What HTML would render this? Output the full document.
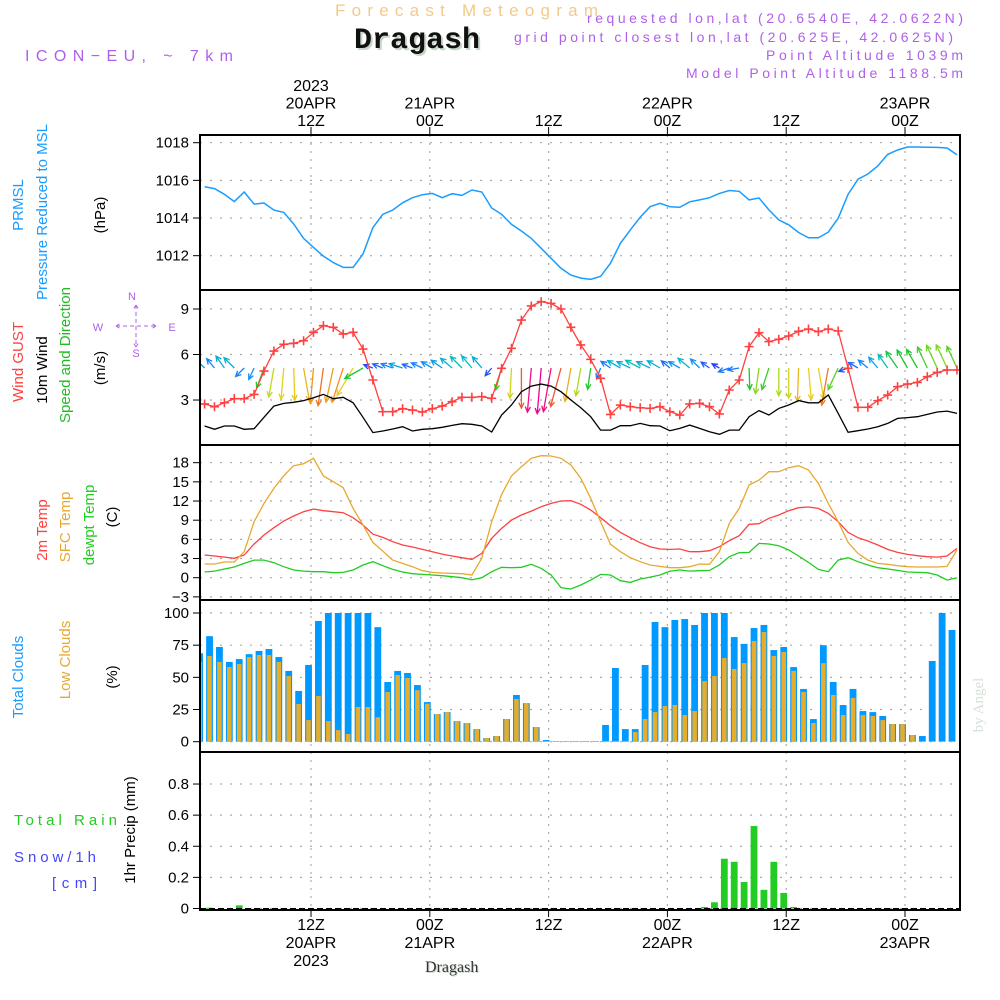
<!DOCTYPE html>
<html><head><meta charset="utf-8"><title>Meteogram Dragash</title>
<style>
html,body{margin:0;padding:0;background:#fff;}
svg{display:block;font-family:"Liberation Sans",sans-serif;}
</style></head>
<body>
<svg id="chart" width="1000" height="1000" viewBox="0 0 1000 1000" xmlns="http://www.w3.org/2000/svg">
<defs><clipPath id="plotclip"><rect x="200" y="135" width="760" height="775"/></clipPath></defs>
<g>
<text x="335" y="16" font-size="17" fill="#f4c98a" textLength="263" lengthAdjust="spacing">Forecast Meteogram</text>
<text x="356" y="50" font-size="30" font-weight="bold" font-family="Liberation Mono, monospace" fill="#c8d8c8">Dragash</text>
<text x="354" y="48" font-size="30" font-weight="bold" font-family="Liberation Mono, monospace" fill="#111">Dragash</text>
<text x="25" y="61" font-size="16" fill="#b060e8" textLength="208" lengthAdjust="spacing">ICON−EU, ~ 7km</text>
<text x="963" y="23" font-size="14" fill="#b060e8" text-anchor="end" textLength="376" lengthAdjust="spacing">requested lon,lat (20.6540E, 42.0622N)</text>
<text x="953" y="42" font-size="14" fill="#b060e8" text-anchor="end" textLength="439" lengthAdjust="spacing">grid point closest lon,lat (20.625E, 42.0625N)</text>
<text x="963" y="60" font-size="14" fill="#b060e8" text-anchor="end" textLength="197" lengthAdjust="spacing">Point Altitude 1039m</text>
<text x="963" y="78" font-size="14" fill="#b060e8" text-anchor="end" textLength="277" lengthAdjust="spacing">Model Point Altitude 1188.5m</text>
</g>
<g font-size="15">
<text transform="translate(23,205) rotate(-90)" text-anchor="middle" fill="#1a9cff">PRMSL</text>
<text transform="translate(47,212) rotate(-90)" text-anchor="middle" fill="#1a9cff">Pressure Reduced to MSL</text>
<text transform="translate(105,215) rotate(-90)" text-anchor="middle" fill="#000">(hPa)</text>
<text transform="translate(23,362) rotate(-90)" text-anchor="middle" fill="#ff4040">Wind GUST</text>
<text transform="translate(47,370) rotate(-90)" text-anchor="middle" fill="#000">10m Wind</text>
<text transform="translate(70,355) rotate(-90)" text-anchor="middle" fill="#22bb22">Speed and Direction</text>
<text transform="translate(105,368) rotate(-90)" text-anchor="middle" fill="#000">(m/s)</text>
<text transform="translate(47,530) rotate(-90)" text-anchor="middle" fill="#ff4040">2m Temp</text>
<text transform="translate(70,527) rotate(-90)" text-anchor="middle" fill="#e8a830">SFC Temp</text>
<text transform="translate(94,525) rotate(-90)" text-anchor="middle" fill="#22cc22">dewpt Temp</text>
<text transform="translate(117,517) rotate(-90)" text-anchor="middle" fill="#000">(C)</text>
<text transform="translate(23,677) rotate(-90)" text-anchor="middle" fill="#1a9cff">Total Clouds</text>
<text transform="translate(70,660) rotate(-90)" text-anchor="middle" fill="#e8a830">Low Clouds</text>
<text transform="translate(117,677) rotate(-90)" text-anchor="middle" fill="#000">(%)</text>
<text x="14" y="825" fill="#22cc22" textLength="103" lengthAdjust="spacing">Total  Rain</text>
<text x="14" y="862" fill="#4444ff" textLength="82" lengthAdjust="spacing">Snow/1h</text>
<text x="52" y="888" fill="#4444ff" textLength="45" lengthAdjust="spacing">[cm]</text>
<text transform="translate(135,830) rotate(-90)" text-anchor="middle" fill="#000">1hr Precip (mm)</text>
</g>
<g fill="#b060e8" stroke="#b060e8" font-size="11">
<text x="132" y="300" stroke="none" text-anchor="middle">N</text>
<text x="98" y="331" stroke="none" text-anchor="middle">W</text>
<text x="172" y="331" stroke="none" text-anchor="middle">E</text>
<text x="136" y="357" stroke="none" text-anchor="middle">S</text>
<path d="M136 305 v42 M116 326 h40 M116 326 l5 -3 M116 326 l5 3 M156 326 l-5 -3 M156 326 l-5 3 M136 305 l-3 5 M136 305 l3 5 M136 347 l-3 -5 M136 347 l3 -5" fill="none" stroke-width="1" stroke-dasharray="4 3"/>
</g>
<text transform="translate(983,705) rotate(-90)" text-anchor="middle" font-size="15" font-family="Liberation Serif, serif" fill="#d8e0d8">by Angel</text>
<text x="426" y="973" font-size="16" font-family="Liberation Serif, serif" fill="#ccd8cc">Dragash</text>
<text x="425" y="972" font-size="16" font-family="Liberation Serif, serif" fill="#333">Dragash</text>
<g id="grid"></g>
<g id="marks" clip-path="url(#plotclip)"></g>
<g id="frames"></g>
<g id="axes"></g>
</svg>
<script>
// ---- data (hourly) ----
const pressure = [1015.66,1015.56,1015.26,1014.87,1015.38,1014.74,1014.8,1014.42,1014.3,1013.68,1012.92,1012.44,1011.98,1011.63,1011.38,1011.38,1012.09,1013.49,1014.2,1014.42,1014.81,1015.08,1015.24,1015.31,1015.08,1015.29,1015.2,1015.49,1015.38,1014.53,1014.2,1013.66,1013.31,1012.92,1012.39,1011.86,1011.33,1010.97,1010.81,1010.74,1010.9,1011.6,1012.66,1013.37,1014.04,1014.6,1014.78,1014.6,1014.57,1014.86,1014.96,1015.08,1015.31,1015.46,1015.42,1014.96,1015.07,1014.43,1013.9,1013.64,1013.23,1012.95,1012.95,1013.25,1013.99,1015.26,1016.06,1016.34,1016.76,1017.38,1017.61,1017.77,1017.77,1017.76,1017.75,1017.72,1017.36];
const gust = [2.74,2.56,2.82,3.09,3.09,3.37,4.91,6.23,6.67,6.74,6.91,7.46,7.9,7.79,7.35,7.46,6.36,4.32,2.23,2.23,2.43,2.34,2.21,2.43,2.6,2.89,3.18,3.18,3.22,3.11,5.09,6.41,8.27,9.2,9.48,9.37,9.0,7.79,6.63,5.68,4.43,2.05,2.67,2.56,2.49,2.45,2.56,2.23,2.01,2.74,2.78,2.56,2.08,3.66,4.32,6.52,7.44,6.85,7.0,7.22,7.53,7.68,7.51,7.68,7.55,5.09,2.52,2.52,2.96,3.33,3.88,4.05,4.16,4.54,4.82,4.98,4.98];
const wind10m = [1.29,1.07,1.29,1.29,1.07,1.11,1.86,2.6,2.78,2.85,2.96,3.15,3.37,3.09,3.18,2.82,1.86,0.85,0.96,1.09,1.24,0.96,1.07,1.11,1.2,1.33,1.44,1.4,1.29,0.89,2.01,2.67,3.55,3.92,4.05,3.92,3.55,3.0,2.49,1.9,1.02,1.02,1.31,1.31,1.46,1.31,1.29,0.98,1.13,1.35,1.13,0.91,0.74,1.02,1.02,1.9,2.3,2.01,2.45,2.67,2.96,2.82,2.82,3.33,2.12,0.87,0.98,1.09,1.24,1.46,1.79,1.84,1.9,2.05,2.21,2.27,2.12];
const windDir = [315,320,325,315,225,205,200,190,185,178,170,185,188,192,198,210,240,290,292,290,288,290,295,300,305,310,315,320,320,220,195,183,180,185,185,190,195,190,190,188,200,305,300,295,298,295,300,310,300,310,315,305,300,250,260,178,188,198,180,180,182,175,170,190,205,250,300,310,320,325,325,330,330,335,335,335,335];
const temp2m = [3.55,3.39,3.23,3.03,3.55,5.27,6.68,7.82,8.87,9.65,10.33,10.75,10.49,10.33,10.17,9.39,8.24,6.83,6.31,5.63,5.11,4.8,4.43,4.07,3.7,3.39,3.13,2.87,3.81,6.16,7.72,9.02,9.81,10.43,11.11,11.63,12.0,12.05,11.48,10.59,9.39,8.14,7.09,6.26,5.48,4.85,4.49,4.43,4.49,4.07,4.07,4.23,4.85,5.79,6.57,8.35,8.45,9.29,9.81,10.49,10.95,11.06,10.85,10.07,8.76,7.09,6.26,5.74,5.11,4.43,3.96,3.65,3.44,3.29,3.23,3.39,4.59];
const sfcTemp = [2.14,2.14,2.45,2.45,4.07,8.76,11.63,13.98,15.96,17.53,17.84,18.68,15.91,15.02,14.08,10.85,8.24,5.53,4.17,2.76,2.24,1.72,1.1,0.83,0.73,0.68,0.63,0.42,3.03,8.76,13.04,15.91,17.37,18.68,19.09,19.04,18.68,17.63,15.55,12.42,8.76,5.22,4.07,3.13,2.5,1.98,1.77,1.56,1.56,1.72,2.14,2.09,4.07,8.5,10.85,14.5,15.28,16.59,16.59,17.21,17.53,16.85,14.76,11.63,8.76,5.53,3.81,2.76,2.24,2.09,1.88,1.72,1.67,1.67,1.67,1.77,4.33];
const dewpt = [0.89,1.04,1.36,1.67,2.24,2.76,2.76,2.35,1.72,1.2,1.04,0.94,0.94,0.78,0.83,1.2,1.98,2.5,1.88,1.3,0.89,0.63,0.52,0.42,0.31,0.16,0,-0.31,0,0.94,1.62,1.56,1.62,2.09,1.46,0.42,-1.56,-1.77,-1.15,-0.37,0.52,0.42,-0.47,-0.73,-0.21,0.1,0.42,1.04,1.2,1.04,1.1,1.15,1.98,3.29,3.91,3.96,5.37,5.27,5.01,4.33,3.39,2.4,1.3,0.94,2.76,3.13,2.5,1.98,1.56,1.36,1.15,0.89,0.83,0.78,0.42,-0.37,0];
const totalClouds = [68.7,82,73.6,62,64.2,68,70.5,72,65.8,55,39.4,59.6,93.8,100,100,100,100,100,89,46.4,55,53.4,44,30.8,21.5,23,16,14.5,9.8,2.8,4.4,17.6,36.3,30,11.4,1.3,0.5,0.5,0.5,0.5,0.5,13,57.3,9.8,9.8,59.6,93,89,94.6,95.3,90.7,100,100,100,81.3,76,88.3,90.7,71.2,73.6,58,41,17.6,75,46.4,28.5,41,23.8,23,20,13.7,13.7,5.2,4.4,62.7,100,86.8];
const lowClouds = [62,66.6,62,58,60.4,65.8,67.4,67.4,62,51,29.3,16.8,35.5,16,9,6,27,27,19,38.6,51.8,49.5,40,29.5,21.5,23,16,14.5,9.8,2.8,4.4,17.6,33.2,30,11.4,0.5,0.5,0.5,0.5,0.5,0.5,0.5,0.5,0.5,7.5,17.6,23,27.7,28.5,20.7,23.8,47,51,65,56.5,61.1,78.2,85.2,66.6,69.7,55,38.6,14.5,61,36.3,20.7,34,20.7,20,16.8,13.7,13.7,5.2,0.5,0.5,0.5,0.5];
const precip = [0,0.005,0,0,0.02,0,0,0,0,0,0,0,0,0,0,0,0,0,0,0,0,0,0,0,0,0,0,0,0,0,0,0,0,0,0,0,0,0,0,0,0,0,0,0,0,0,0,0,0,0,0,0.01,0.04,0.32,0.30,0.17,0.53,0.12,0.30,0.10,0.01,0,0,0,0,0,0,0,0,0,0,0,0,0,0,0,0];
const timeTicksTop = [["2023","20APR","12Z"],["21APR","00Z"],["12Z"],["22APR","00Z"],["12Z"],["23APR","00Z"]];
const timeTicksBottom = [["12Z","20APR","2023"],["00Z","21APR"],["12Z"],["00Z","22APR"],["12Z"],["00Z","23APR"]];
const tickHours = [10.75,22.75,34.75,46.75,58.75,70.75];
const pTicks = [1012,1014,1016,1018];
const wTicks = [3,6,9];
const tTicks = [-3,0,3,6,9,12,15,18];
const cTicks = [0,25,50,75,100];
const rTicks = [0,0.2,0.4,0.6,0.8];

// ---- scales ----
const X0=200, X1=960;
function xScale(h){return 311+(h-10.75)*9.9;}
function yP(v){return 142.7+(1018-v)*18.83;}
function yW(v){return 309+(9-v)*15.17;}
function yT(v){return 577.7-v*6.39;}
function yC(v){return 741.7-v*1.287;}
function yR(v){return 908.5-v*155.6;}
const panels=[[135,290],[290,445],[445,600],[600,752],[752,910]];

const NS='http://www.w3.org/2000/svg';
function mk(tag,attrs,parent){const e=document.createElementNS(NS,tag);for(const k in attrs)e.setAttribute(k,attrs[k]);parent.appendChild(e);return e;}
const grid=document.getElementById('grid'),marks=document.getElementById('marks'),frames=document.getElementById('frames'),axes=document.getElementById('axes');

function hgrid(vals,yf,name){vals.forEach(v=>{const l=mk('line',{x1:X0,x2:X1,y1:yf(v),y2:yf(v),stroke:'#aaa','stroke-width':1.2,'stroke-dasharray':'2 8'},grid);


const t=mk('line',{x1:193,x2:200,y1:yf(v),y2:yf(v),stroke:'#000','stroke-width':1},axes);


const tx=mk('text',{x:189,y:yf(v)+5,'font-size':15,'text-anchor':'end',fill:'#000'},axes);
tx.textContent=(name==='precip'&&v!==0)?v.toFixed(1):(v<0?'−'+Math.abs(v):String(v));

});}
hgrid(pTicks,yP,'pressure');hgrid(wTicks,yW,'wind');hgrid(tTicks,yT,'temp');hgrid(cTicks,yC,'cloud');hgrid(rTicks,yR,'precip');
tickHours.forEach((h,i)=>{const x=xScale(h);
panels.forEach(p=>{const l=mk('line',{x1:x,x2:x,y1:p[0],y2:p[1],stroke:'#aaa','stroke-width':1.2,'stroke-dasharray':'2 6'},grid);

});
const tt=mk('line',{x1:x,x2:x,y1:127,y2:135,stroke:'#000'},axes);


const tb=mk('line',{x1:x,x2:x,y1:910,y2:917,stroke:'#000'},axes);


const top=timeTicksTop[i];top.forEach((s,j)=>{const t=mk('text',{x:x,y:126-(top.length-1-j)*17.5,'font-size':16,'text-anchor':'middle',fill:'#000'},axes);t.textContent=s;

});
timeTicksBottom[i].forEach((s,j)=>{const t=mk('text',{x:x,y:930+j*18,'font-size':16,'text-anchor':'middle',fill:'#000'},axes);t.textContent=s;

});});

function line(arr,yf,color,name,w){const pts=arr.map((v,i)=>xScale(i).toFixed(1)+','+yf(v).toFixed(1)).join(' ');
const p=mk('polyline',{points:pts,fill:'none',stroke:color,'stroke-width':w||1.3},marks);

return p;}

line(pressure,yP,'#1a9cff','pressure-line',1.5);
totalClouds.forEach((v,i)=>{const x=xScale(i-0.5);
const r=mk('rect',{x:x-3.4,y:yC(v),width:6.8,height:yC(0)-yC(v),fill:'#0099ff'},marks);


const lv=lowClouds[i];
const r2=mk('rect',{x:x-2.3,y:yC(lv),width:4.6,height:yC(0)-yC(lv),fill:'#e6ac2c'},marks);

});
precip.forEach((v,i)=>{if(v<=0)return;const x=xScale(i-0.5);
const r=mk('rect',{x:x-3.4,y:yR(v),width:6.8,height:Math.max(1,yR(0)-yR(v)),fill:'#22cc22'},marks);

});
const zl=mk('line',{x1:X0,x2:X1,y1:yR(0),y2:yR(0),stroke:'#000','stroke-width':1,'stroke-dasharray':'6 3'},marks);


line(temp2m,yT,'#ff4040','temp-2m-line');
line(sfcTemp,yT,'#e8a830','sfc-temp-line');
line(dewpt,yT,'#22cc22','dewpoint-line');
function speedColor(s){const st=[[0.8,[40,60,255]],[1.1,[20,140,250]],[1.4,[0,190,200]],[1.9,[30,200,40]],[2.4,[160,220,30]],[2.8,[230,210,30]],[3.2,[240,140,30]],[3.6,[240,80,50]],[4.0,[240,0,150]]];
if(s<=st[0][0])return 'rgb('+st[0][1]+')';for(let k=1;k<st.length;k++){if(s<=st[k][0]){const a=(s-st[k-1][0])/(st[k][0]-st[k-1][0]);const c=st[k-1][1].map((v,j)=>Math.round(v+(st[k][1][j]-v)*a));return 'rgb('+c+')';}}return 'rgb('+st[st.length-1][1]+')';}
windDir.forEach((d,i)=>{const s=wind10m[i];const L=s*11.3;const th=d*Math.PI/180;
const x0=xScale(i),y0=368;const x1=x0+L*Math.sin(th),y1=y0-L*Math.cos(th);
const a1=th+Math.PI-0.45,a2=th+Math.PI+0.45,hl=6;
const c=speedColor(s);
const g=mk('path',{d:`M${x0.toFixed(1)} ${y0} L${x1.toFixed(1)} ${y1.toFixed(1)} M${(x1+hl*Math.sin(a1)).toFixed(1)} ${(y1-hl*Math.cos(a1)).toFixed(1)} L${x1.toFixed(1)} ${y1.toFixed(1)} L${(x1+hl*Math.sin(a2)).toFixed(1)} ${(y1-hl*Math.cos(a2)).toFixed(1)}`,fill:'none',stroke:c,'stroke-width':1.3},marks);

});
line(wind10m,yW,'#000','wind-10m-line');
line(gust,yW,'#ff4040','gust-line');
gust.forEach((v,i)=>{const x=xScale(i),y=yW(v);
const p=mk('path',{d:`M${x-4.5} ${y} h9 M${x} ${y-4.5} v9`,stroke:'#ff4040','stroke-width':1.6,fill:'none'},marks);

});
panels.forEach((p,k)=>{const r=mk('rect',{x:X0,y:p[0],width:X1-X0,height:p[1]-p[0],fill:'none',stroke:'#000','stroke-width':2},frames);

});
</script>
</body></html>
